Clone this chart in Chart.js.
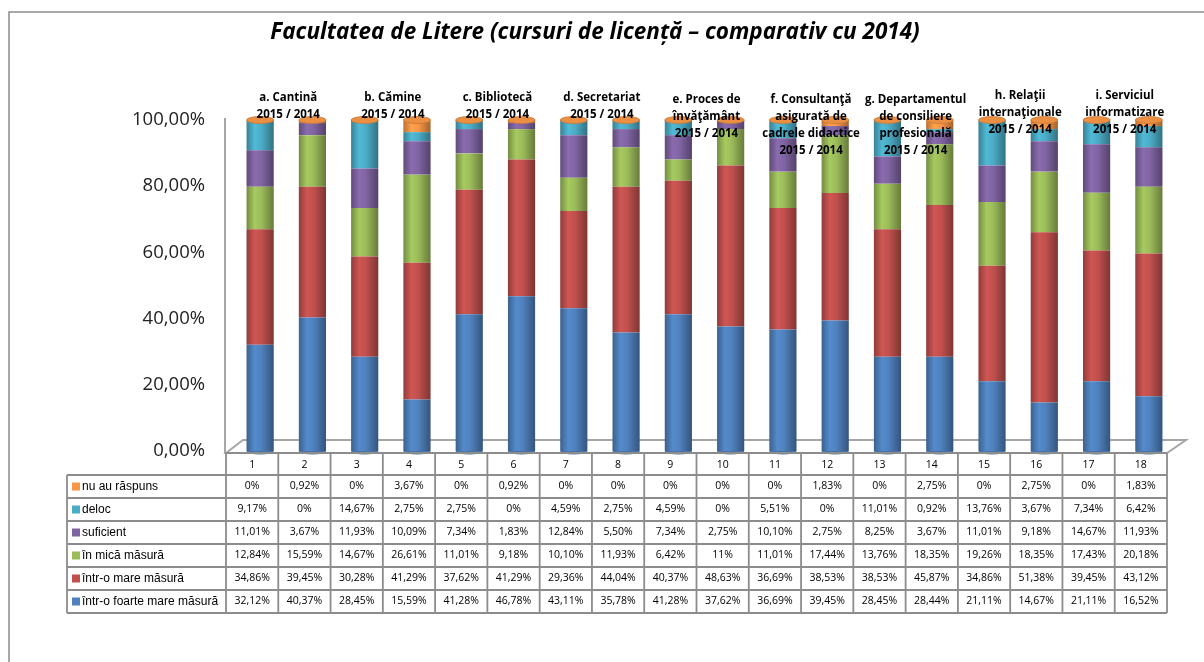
<!DOCTYPE html>
<html>
<head>
<meta charset="utf-8">
<script src="https://cdn.jsdelivr.net/npm/chart.js@4.4.1/dist/chart.umd.min.js"></script>
<style>
  html, body { margin: 0; padding: 0; background: #fff; }
  #wrap { width: 1204px; height: 662px; position: relative; }
</style>
</head>
<body>
<div id="wrap"><canvas id="facultyChart"></canvas></div>
<script>
const categories = ['1', '2', '3', '4', '5', '6', '7', '8', '9', '10', '11', '12', '13', '14', '15', '16', '17', '18'];
const groupLabels = [
    ['a. Cantină', '2015 / 2014'],
    ['b. Cămine', '2015 / 2014'],
    ['c. Bibliotecă', '2015 / 2014'],
    ['d. Secretariat', '2015 / 2014'],
    ['e. Proces de', 'învăţământ', '2015 / 2014'],
    ['f. Consultanţă', 'asigurată de', 'cadrele didactice', '2015 / 2014'],
    ['g. Departamentul', 'de consiliere', 'profesională', '2015 / 2014'],
    ['h. Relaţii', 'internaţionale', '2015 / 2014'],
    ['i. Serviciul', 'informatizare', '2015 / 2014']
];
const yTicks = [0, 20, 40, 60, 80, 100];

// stacked bottom -> top
const foarteMare = [32.12, 40.37, 28.45, 15.59, 41.28, 46.78, 43.11, 35.78, 41.28, 37.62, 36.69, 39.45, 28.45, 28.44, 21.11, 14.67, 21.11, 16.52];
const mare = [34.86, 39.45, 30.28, 41.29, 37.62, 41.29, 29.36, 44.04, 40.37, 48.63, 36.69, 38.53, 38.53, 45.87, 34.86, 51.38, 39.45, 43.12];
const mica = [12.84, 15.59, 14.67, 26.61, 11.01, 9.18, 10.10, 11.93, 6.42, 11, 11.01, 17.44, 13.76, 18.35, 19.26, 18.35, 17.43, 20.18];
const suficient = [11.01, 3.67, 11.93, 10.09, 7.34, 1.83, 12.84, 5.50, 7.34, 2.75, 10.10, 2.75, 8.25, 3.67, 11.01, 9.18, 14.67, 11.93];
const deloc = [9.17, 0, 14.67, 2.75, 2.75, 0, 4.59, 2.75, 4.59, 0, 5.51, 0, 11.01, 0.92, 13.76, 3.67, 7.34, 6.42];
const nuAuRaspuns = [0, 0.92, 0, 3.67, 0, 0.92, 0, 0, 0, 0, 0, 1.83, 0, 2.75, 0, 2.75, 0, 1.83];

const BAR_PCT = 0.52;
const BAR_SHIFT = 8;    // bars sit a little behind the table columns (3D depth)
const FLOOR_DEPTH = 17;

function shade(hex, f) {
    const n = parseInt(hex.slice(1), 16);
    const c = [(n >> 16) & 255, (n >> 8) & 255, n & 255].map(v => Math.max(0, Math.min(255, Math.round(v * f))));
    return 'rgb(' + c.join(',') + ')';
}

function cylinder(hex) {
    return (ctx) => {
        const chart = ctx.chart;
        const area = chart.chartArea;
        if (!area || ctx.type !== 'data') return hex;
        const x = chart.scales.x.getPixelForValue(ctx.dataIndex);
        const w = area.width / categories.length * BAR_PCT;
        const g = chart.ctx.createLinearGradient(x - w / 2, 0, x + w / 2, 0);
        g.addColorStop(0, shade(hex, 0.75));
        g.addColorStop(0.3, shade(hex, 1.08));
        g.addColorStop(0.55, hex);
        g.addColorStop(1, shade(hex, 0.66));
        return g;
    };
}

function pct(v) {
    return (Number.isInteger(v) ? String(v) : v.toFixed(2).replace('.', ',')) + '%';
}

const series = [
    { label: 'într-o foarte mare măsură', data: foarteMare, color: '#4F81BD' },
    { label: 'într-o mare măsură', data: mare, color: '#C0504D' },
    { label: 'în mică măsură', data: mica, color: '#9BBB59' },
    { label: 'suficient', data: suficient, color: '#8064A2' },
    { label: 'deloc', data: deloc, color: '#4BACC6' },
    { label: 'nu au răspuns', data: nuAuRaspuns, color: '#F79646' }
];

function y0Table(chart) {
    return chart.scales.y.getPixelForValue(0) + 2;
}

const decor = {
    id: 'decor',
    beforeDatasetsDraw(chart) {
        const c = chart.ctx, a = chart.chartArea, y = chart.scales.y;
        const left = a.left - BAR_SHIFT;
        const right = a.right - BAR_SHIFT;
        const y0 = y.getPixelForValue(0) + 2;
        c.save();
        c.strokeStyle = '#a6a6a6';
        c.lineWidth = 2;
        // side wall edge
        c.beginPath();
        c.moveTo(left - 1, y.getPixelForValue(100) - 2);
        c.lineTo(left - 1, y0);
        c.stroke();
        // floor
        c.fillStyle = '#ffffff';
        c.beginPath();
        c.moveTo(left, y0);
        c.lineTo(left + FLOOR_DEPTH, y0 - 13);
        c.lineTo(right + FLOOR_DEPTH + 2, y0 - 13);
        c.lineTo(right, y0);
        c.closePath();
        c.fill();
        c.stroke();
        c.restore();
    },
    afterDatasetsDraw(chart) {
        const c = chart.ctx, a = chart.chartArea, x = chart.scales.x, y = chart.scales.y;
        const w = a.width / categories.length * BAR_PCT;
        const yTop = y.getPixelForValue(100);
        const yBot = y.getPixelForValue(0);
        c.save();
        categories.forEach((_, i) => {
            const cx = x.getPixelForValue(i);
            // bottom rounding
            c.fillStyle = shade('#4F81BD', 0.9);
            c.beginPath();
            c.ellipse(cx, yBot, w / 2, 3.5, 0, 0, Math.PI);
            c.fill();
            // top cap
            c.fillStyle = shade('#F79646', 0.95);
            c.strokeStyle = shade('#F79646', 0.8);
            c.lineWidth = 0.8;
            c.beginPath();
            c.ellipse(cx, yTop, w / 2, 3.5, 0, 0, Math.PI * 2);
            c.fill();
            c.stroke();
        });
        // group labels above each pair
        const firstLineY = [98, 98, 98, 98, 100, 100, 100, 96, 96];
        c.fillStyle = '#000';
        c.font = 'bold 11.5px "Open Sans"';
        c.textAlign = 'center';
        c.textBaseline = 'middle';
        groupLabels.forEach((lines, g) => {
            const mid = (x.getPixelForValue(2 * g) + x.getPixelForValue(2 * g + 1)) / 2 + 2;
            lines.forEach((t, k) => c.fillText(t, mid, firstLineY[g] + k * 17));
        });
        c.restore();
    },
    afterDraw(chart) {
        const c = chart.ctx, a = chart.chartArea, x = chart.scales.x;
        c.save();
        // outer frame
        c.strokeStyle = '#8c8c8c';
        c.lineWidth = 1.5;
        c.beginPath();
        c.moveTo(9, 662);
        c.lineTo(9, 12);
        c.lineTo(1204, 12);
        c.stroke();

        // title
        c.fillStyle = '#000';
        c.font = 'italic bold 22.5px "Open Sans"';
        c.textAlign = 'center';
        c.textBaseline = 'middle';
        c.fillText('Facultatea de Litere (cursuri de licență – comparativ cu 2014)', 595, 33);

        // data table
        const colW = a.width / categories.length;
        const tLeft = 67;
        const gridLeft = a.left - BAR_SHIFT;
        const gridRight = a.right - BAR_SHIFT;
        const headTop = y0Table(chart);
        const headH = 22;
        const rowH = 23;
        const rows = series.slice().reverse();
        const bottom = headTop + headH + rowH * rows.length;

        c.strokeStyle = '#8c8c8c';
        c.lineWidth = 1.8;
        c.beginPath();
        c.moveTo(gridLeft, headTop); c.lineTo(gridRight, headTop);
        for (let r = 0; r <= rows.length; r++) {
            const yy = headTop + headH + r * rowH;
            c.moveTo(tLeft, yy); c.lineTo(gridRight, yy);
        }
        c.moveTo(tLeft, headTop + headH); c.lineTo(tLeft, bottom);
        for (let k = 0; k <= categories.length; k++) {
            const xx = gridLeft + k * colW;
            c.moveTo(xx, headTop); c.lineTo(xx, bottom);
        }
        c.stroke();

        c.textAlign = 'center';
        c.font = '10.5px "Open Sans"';
        c.fillStyle = '#000';
        categories.forEach((cat, i) => {
            const cx = x.getPixelForValue(i) - BAR_SHIFT;
            c.fillText(cat, cx, headTop + headH / 2 + 1);
            rows.forEach((s, r) => {
                c.fillText(pct(s.data[i]), cx, headTop + headH + r * rowH + rowH / 2);
            });
        });
        c.textAlign = 'left';
        c.font = '12px "Liberation Sans"';
        rows.forEach((s, r) => {
            const cy = headTop + headH + r * rowH + rowH / 2;
            c.fillStyle = s.color;
            c.fillRect(72, cy - 4, 8, 8);
            c.fillStyle = '#000';
            c.fillText(s.label, 82, cy);
        });
        c.restore();
    }
};

new Chart(document.getElementById('facultyChart'), {
    type: 'bar',
    data: {
        labels: categories,
        datasets: series.map(s => ({
            label: s.label,
            data: s.data,
            backgroundColor: cylinder(s.color),
            borderWidth: 0,
            barPercentage: BAR_PCT,
            categoryPercentage: 1
        }))
    },
    options: {
        responsive: true,
        maintainAspectRatio: false,
        animation: false,
        events: [],
        layout: { padding: { top: 120, right: 29, bottom: 211, left: 0 } },
        plugins: {
            legend: { display: false },
            title: { display: false },
            tooltip: { enabled: false }
        },
        scales: {
            x: {
                stacked: true,
                display: false
            },
            y: {
                stacked: true,
                min: 0,
                max: 100,
                afterFit: (s) => { s.width = 234; },
                afterBuildTicks: (s) => { s.ticks = yTicks.map(v => ({ value: v })); },
                grid: { display: false, drawTicks: false },
                border: { display: false },
                ticks: {
                    padding: 29,
                    color: '#222',
                    font: { family: 'Open Sans', size: 18.5 },
                    callback: (v) => v.toFixed(2).replace('.', ',') + '%'
                }
            }
        }
    },
    plugins: [decor]
});
</script>
</body>
</html>
